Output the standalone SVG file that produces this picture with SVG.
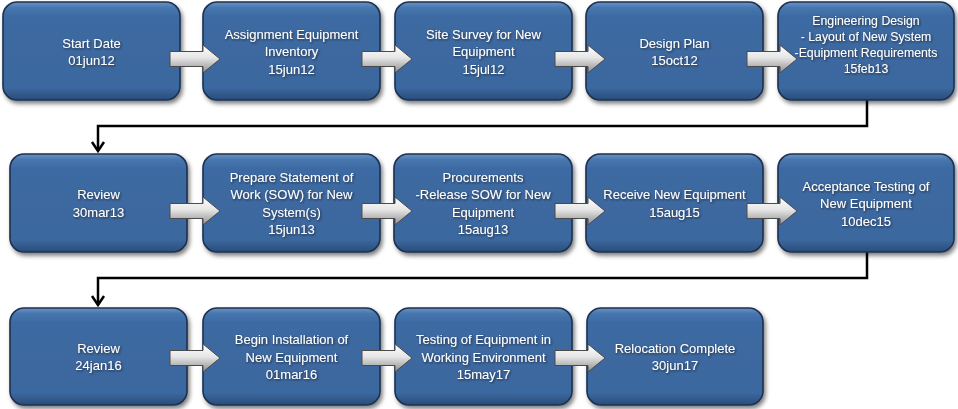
<svg xmlns="http://www.w3.org/2000/svg" width="958" height="409" viewBox="0 0 958 409">
<style>
.box{fill:url(#bg);stroke:#1b3050;stroke-width:1.6;filter:url(#sh)}
.arr{fill:url(#ag);stroke:#4a4a4a;stroke-width:1}
.t{fill:#ffffff;font-family:"Liberation Sans",Arial,sans-serif;font-size:13px;text-anchor:middle;filter:url(#ts)}
.t2{font-size:12.3px}
.con{fill:none;stroke:#000;stroke-width:2.5;marker-end:url(#ah)}
</style>
<defs>
<linearGradient id="bg" x1="0" y1="0" x2="0" y2="1">
<stop offset="0" stop-color="#6b93c6"/>
<stop offset="0.06" stop-color="#4676ad"/>
<stop offset="0.15" stop-color="#3d6aa2"/>
<stop offset="0.88" stop-color="#3b679e"/>
<stop offset="1" stop-color="#2a4d78"/>
</linearGradient>
<linearGradient id="ag" x1="0" y1="0" x2="0" y2="1">
<stop offset="0" stop-color="#ffffff"/>
<stop offset="0.45" stop-color="#e6e6e6"/>
<stop offset="1" stop-color="#8e8e8e"/>
</linearGradient>
<filter id="sh" x="-10%" y="-10%" width="125%" height="130%">
<feDropShadow dx="2" dy="3" stdDeviation="2" flood-color="#000" flood-opacity="0.5"/>
</filter>
<filter id="ts" x="-10%" y="-40%" width="125%" height="180%">
<feDropShadow dx="1" dy="1" stdDeviation="0.8" flood-color="#1a1a1a" flood-opacity="0.75"/>
</filter>
<marker id="ah" markerUnits="userSpaceOnUse" viewBox="-12 -9 14 18" refX="0" refY="0" markerWidth="14" markerHeight="18" orient="auto">
<path d="M-9,-6 L0,0 L-9,6" fill="none" stroke="#000" stroke-width="2.5"/>
</marker>
<path id="arrow" class="arr" d="M0,-7.5 H33 V-14 L50,0 L33,14 V7.5 H0 Z"/>
</defs>

<g id="connectors">
<path class="con" d="M867,100 V126 H98 V151"/>
<path class="con" d="M867,252 V278 H98 V305"/>
</g>

<g id="n1"><rect class="box" x="3" y="2" width="177" height="98" rx="14"/>
<text class="t" x="91.5" y="47.5">Start Date</text><text class="t" x="91.5" y="65">01jun12</text></g>
<g id="n2"><rect class="box" x="203" y="2" width="177" height="98" rx="14"/>
<text class="t" x="291.5" y="38.5">Assignment Equipment</text><text class="t" x="291.5" y="56">Inventory</text><text class="t" x="291.5" y="73.5">15jun12</text></g>
<g id="n3"><rect class="box" x="395" y="2" width="177" height="98" rx="14"/>
<text class="t" x="483.5" y="38.5">Site Survey for New</text><text class="t" x="483.5" y="56">Equipment</text><text class="t" x="483.5" y="73.5">15jul12</text></g>
<g id="n4"><rect class="box" x="586" y="2" width="177" height="98" rx="14"/>
<text class="t" x="674.5" y="47.5">Design Plan</text><text class="t" x="674.5" y="65">15oct12</text></g>
<g id="n5"><rect class="box" x="778" y="2" width="176" height="98" rx="14"/>
<text class="t t2" x="866" y="24.5">Engineering Design</text><text class="t t2" x="866" y="40.8">- Layout of New System</text><text class="t t2" x="866" y="57.1">-Equipment Requirements</text><text class="t t2" x="866" y="73.4">15feb13</text></g>

<g id="n6"><rect class="box" x="10" y="154" width="177" height="98" rx="14"/>
<text class="t" x="98.5" y="199.3">Review</text><text class="t" x="98.5" y="216.8">30mar13</text></g>
<g id="n7"><rect class="box" x="203" y="154" width="177" height="98" rx="14"/>
<text class="t" x="291.5" y="181.8">Prepare Statement of</text><text class="t" x="291.5" y="199.3">Work (SOW) for New</text><text class="t" x="291.5" y="216.8">System(s)</text><text class="t" x="291.5" y="234.3">15jun13</text></g>
<g id="n8"><rect class="box" x="394" y="154" width="178" height="98" rx="14"/>
<text class="t" x="483" y="181.8">Procurements</text><text class="t" x="483" y="199.3">-Release SOW for New</text><text class="t" x="483" y="216.8">Equipment</text><text class="t" x="483" y="234.3">15aug13</text></g>
<g id="n9"><rect class="box" x="586" y="154" width="177" height="98" rx="14"/>
<text class="t" x="674.5" y="199.3">Receive New Equipment</text><text class="t" x="674.5" y="216.8">15aug15</text></g>
<g id="n10"><rect class="box" x="778" y="154" width="176" height="98" rx="14"/>
<text class="t" x="866" y="190.5">Acceptance Testing of</text><text class="t" x="866" y="208">New Equipment</text><text class="t" x="866" y="225.5">10dec15</text></g>

<g id="n11"><rect class="box" x="10" y="308" width="177" height="97" rx="14"/>
<text class="t" x="98.5" y="352.8">Review</text><text class="t" x="98.5" y="370.3">24jan16</text></g>
<g id="n12"><rect class="box" x="203" y="308" width="177" height="97" rx="14"/>
<text class="t" x="291.5" y="344">Begin Installation of</text><text class="t" x="291.5" y="361.5">New Equipment</text><text class="t" x="291.5" y="379">01mar16</text></g>
<g id="n13"><rect class="box" x="395" y="308" width="177" height="97" rx="14"/>
<text class="t" x="483.5" y="344">Testing of Equipment in</text><text class="t" x="483.5" y="361.5">Working Environment</text><text class="t" x="483.5" y="379">15may17</text></g>
<g id="n14"><rect class="box" x="587" y="308" width="176" height="97" rx="14"/>
<text class="t" x="675" y="352.8">Relocation Complete</text><text class="t" x="675" y="370.3">30jun17</text></g>

<g id="flow-arrows">
<use href="#arrow" x="170" y="59"/>
<use href="#arrow" x="362" y="59"/>
<use href="#arrow" x="555" y="59"/>
<use href="#arrow" x="747" y="59"/>
<use href="#arrow" x="170" y="211"/>
<use href="#arrow" x="362" y="211"/>
<use href="#arrow" x="555" y="211"/>
<use href="#arrow" x="747" y="211"/>
<use href="#arrow" x="170" y="358"/>
<use href="#arrow" x="362" y="358"/>
<use href="#arrow" x="555" y="358"/>
</g>
</svg>
